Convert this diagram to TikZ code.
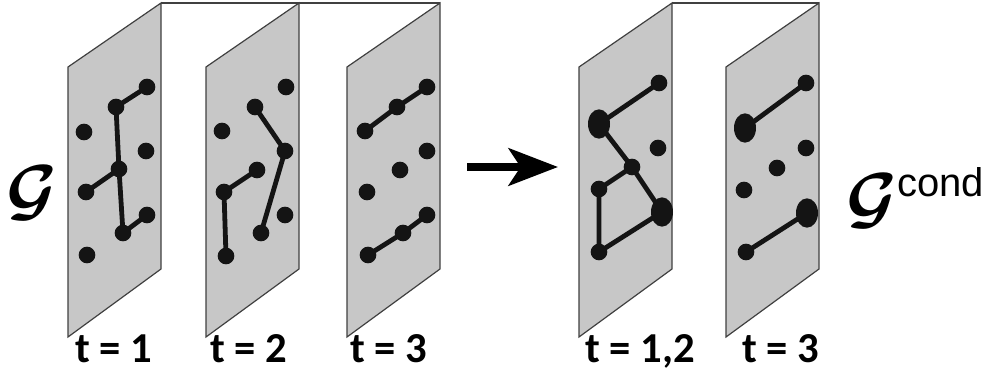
\documentclass[tikz,border=0pt]{standalone}
\usepackage{graphicx}
\usepackage{fontspec}
\newfontfamily\labelfont{Carlito}
\newfontfamily\condfont{Liberation Sans}
\usetikzlibrary{arrows.meta,positioning,shapes.geometric}

\newcommand{\bigG}{\scalebox{5.2}{\boldmath$\mathcal{G}$}}

\begin{document}
\begin{tikzpicture}[
  x=0.75pt, y=-0.75pt,
  panel/.style={draw=black!75, fill=black!22, line width=0.9pt},
  vertex/.style={circle, fill=black!92, inner sep=0pt, minimum size=12.5pt},
  bigvertex/.style={ellipse, fill=black!92, inner sep=0pt,
    minimum width=16.5pt, minimum height=22pt},
  edge/.style={line width=3.6pt, black!92},
  tlabel/.style={anchor=base west, inner sep=0pt,
    font=\labelfont\bfseries\fontsize{32}{36}\selectfont},
  biglabel/.style={anchor=base west, inner sep=0pt}
]
\useasboundingbox (0,0) rectangle (995,373);

% links along the top of the panels
\draw[black!75, line width=1pt] (161,3) -- (440,3);
\draw[black!75, line width=1pt] (672,3) -- (819,3);

% the panels
\foreach \px in {68,206,347,579,726}
  \draw[panel] (\px,67) -- ++(93,-64) -- ++(0,266) -- ++(-93,68) -- cycle;

% panel t = 1
\node[vertex] (a1) at (147,87) {};
\node[vertex] (a2) at (116,107) {};
\node[vertex] (a3) at (84,132) {};
\node[vertex] (a4) at (146,151) {};
\node[vertex] (a5) at (119,169) {};
\node[vertex] (a6) at (86,192) {};
\node[vertex] (a7) at (147,215) {};
\node[vertex] (a8) at (123,233) {};
\node[vertex] (a9) at (87,255) {};
\draw[edge] (a1.center) -- (a2.center) -- (a5.center) -- (a6.center);
\draw[edge] (a5.center) -- (a8.center) -- (a7.center);

% panel t = 2
\node[vertex] (b1) at (286,87) {};
\node[vertex] (b2) at (255,107) {};
\node[vertex] (b3) at (222,131) {};
\node[vertex] (b4) at (285,151) {};
\node[vertex] (b5) at (257,170) {};
\node[vertex] (b6) at (224,192) {};
\node[vertex] (b7) at (285,215) {};
\node[vertex] (b8) at (261,233) {};
\node[vertex] (b9) at (226,256) {};
\draw[edge] (b2.center) -- (b4.center) -- (b8.center);
\draw[edge] (b5.center) -- (b6.center) -- (b9.center);

% panel t = 3
\node[vertex] (c1) at (427,87) {};
\node[vertex] (c2) at (397,107) {};
\node[vertex] (c3) at (365,131) {};
\node[vertex] (c4) at (427,151) {};
\node[vertex] (c5) at (400,170) {};
\node[vertex] (c6) at (367,192) {};
\node[vertex] (c7) at (427,215) {};
\node[vertex] (c8) at (403,233) {};
\node[vertex] (c9) at (368,255) {};
\draw[edge] (c3.center) -- (c2.center) -- (c1.center);
\draw[edge] (c9.center) -- (c8.center) -- (c7.center);

% condensing step
\coordinate (arrowtail) at (467,167);
\coordinate (arrowtip) at (558,167);
\draw[line width=6pt, -{Stealth[length=37pt, width=28pt, inset=9pt]}]
  (arrowtail) -- (arrowtip);

% panel t = 1,2
\node[vertex] (d1) at (659,83) {};
\node[bigvertex] (d2) at (599,124) {};
\node[vertex] (d3) at (658,148) {};
\node[vertex] (d4) at (632,167) {};
\node[vertex] (d5) at (599,189) {};
\node[bigvertex] (d6) at (662,212) {};
\node[vertex] (d7) at (599,252) {};
\draw[edge] (d1.center) -- (d2.center) -- (d4.center) -- (d6.center)
  -- (d7.center) -- (d5.center) -- (d4.center);

% panel t = 3 (condensed)
\node[vertex] (e1) at (806,83) {};
\node[bigvertex] (e2) at (745,128) {};
\node[vertex] (e3) at (806,148) {};
\node[vertex] (e4) at (777,168) {};
\node[vertex] (e5) at (744,190) {};
\node[bigvertex] (e6) at (807,213) {};
\node[vertex] (e7) at (746,252) {};
\draw[edge] (e2.center) -- (e1.center);
\draw[edge] (e7.center) -- (e6.center);

% graph names
\node[biglabel] (gname) at (6,214) {\bigG};
\node[biglabel] (gcond) at (846,222)
  {\bigG\raisebox{19pt}{\condfont\fontsize{30}{36}\selectfont cond}};

% time labels
\node[tlabel] (t1) at (75,363) {t = 1};
\node[tlabel] (t2) at (210,363) {t = 2};
\node[tlabel] (t3) at (350,363) {t = 3};
\node[tlabel] (t12) at (585,363) {t = 1,2};
\node[tlabel] (t3c) at (742,363) {t = 3};

\end{tikzpicture}
\end{document}
